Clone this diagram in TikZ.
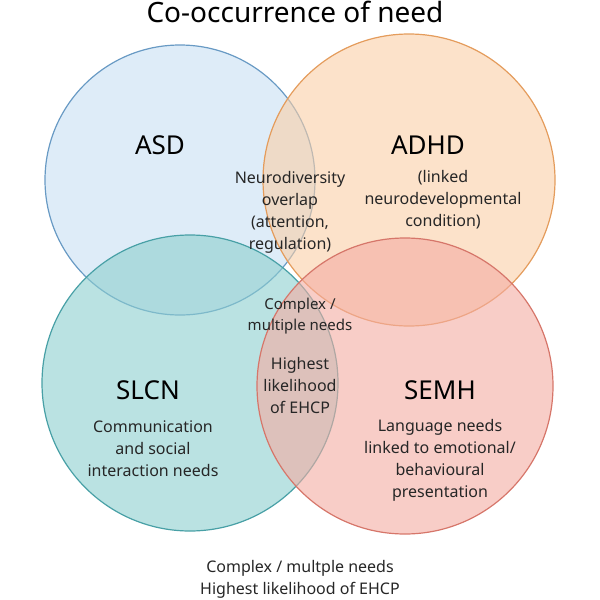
\documentclass[tikz,border=0pt]{standalone}
\usepackage{fontspec}
\setmainfont{Noto Sans}
\definecolor{asdfill}{RGB}{200,224,244}
\definecolor{asdline}{RGB}{104,154,196}
\definecolor{adhdfill}{RGB}{250,206,166}
\definecolor{adhdline}{RGB}{228,156,92}
\definecolor{slcnfill}{RGB}{140,206,206}
\definecolor{slcnline}{RGB}{72,160,166}
\definecolor{semhfill}{RGB}{244,172,162}
\definecolor{semhline}{RGB}{214,118,106}
\tikzset{every picture/.style={line width=1pt},
  set/.style={draw=#1line, fill=#1fill, fill opacity=0.6, line width=1.2pt},
  big/.style={font=\fontsize{26}{30}\selectfont},
  small/.style={font=\fontsize{16}{22}\selectfont, align=center, text=black!85}}
\begin{document}
\begin{tikzpicture}[x=1pt,y=1pt,yscale=-1,xscale=1]
\useasboundingbox (0,0) rectangle (600,600);

%Sets
\draw [set=asd]  (180,180) circle (135);
\draw [set=adhd] (409,180) circle (146);
\draw [set=slcn] (190,383) circle (148);
\draw [set=semh] (405,386) circle (148);

%Title
\node (title) at (295,12) {\fontsize{28}{32}\selectfont Co-occurrence of need};

%Set names
\node [big] (asd)  at (160,145) {ASD};
\node [big] (adhd) at (428,145) {ADHD};
\node [big] (slcn) at (148,390) {SLCN};
\node [big] (semh) at (440,390) {SEMH};

%Region texts
\node [small] (overlap) at (290,212) {Neurodiversity\\overlap\\(attention,\\regulation)};
\node [small] (linked) at (443,200) {(linked\\neurodevelopmental\\condition)};
\node [small, font=\fontsize{15}{21}\selectfont\bfseries] (complex) at (300,316) {\bfseries Complex /\\\bfseries multiple needs};
\node [small] (ehcp) at (300,385) {Highest\\likelihood\\of EHCP};
\node [small] (comm) at (153,449) {Communication\\and social\\interaction needs};
\node [small] (lang) at (440,460) {Language needs\\linked to emotional/\\behavioural\\presentation};

%Footer
\node [small] (footer) at (300,579) {Complex / multple needs\\Highest likelihood of EHCP};
\end{tikzpicture}
\end{document}
